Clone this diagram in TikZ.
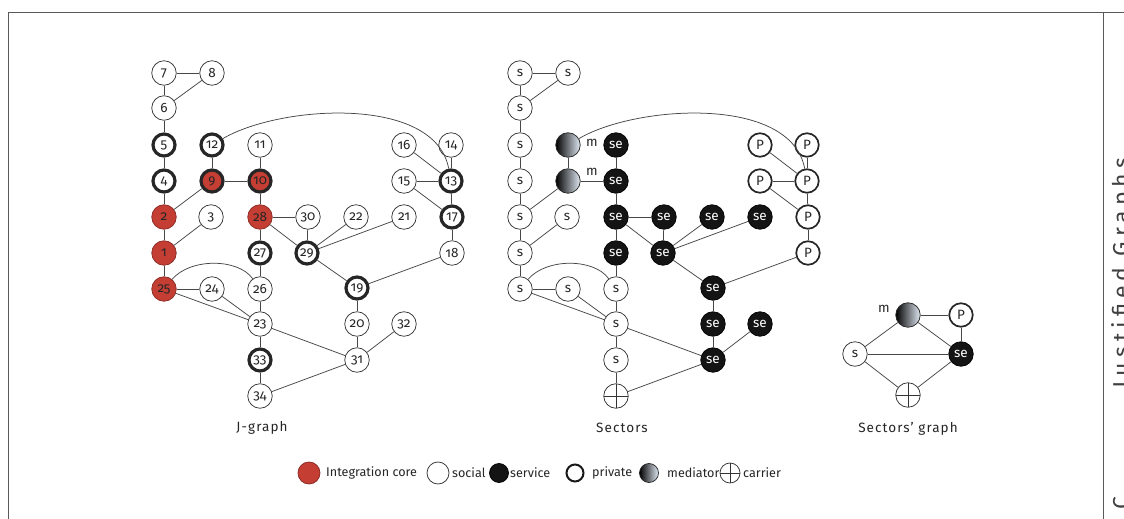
\documentclass[tikz,border=0pt]{standalone}
\usepackage{fontspec}
\setmainfont{Fira Sans}[Numbers=OldStyle]
\usetikzlibrary{calc}
\definecolor{corered}{RGB}{196,62,52}
\definecolor{medlight}{RGB}{226,234,244}
\definecolor{medmid}{RGB}{70,84,110}
\def\lblsts{s}\def\lblstm{}\def\lblstse{se}\def\lblstP{P}\def\lblstc{}
\tikzset{
  edge/.style={draw=black!72, line width=0.75pt},
  base/.style={circle, inner sep=0pt, font=\fontsize{13.5}{13.5}\selectfont, text=black!85},
  jw/.style={base, draw=black!80, line width=0.75pt, fill=white, minimum size=24.5pt},
  jwp/.style={base, draw=black!85, line width=3.2pt, fill=white, minimum size=22pt},
  jr/.style={base, draw=corered!70!black, line width=0.75pt, fill=corered, minimum size=24.5pt},
  jrp/.style={base, draw=black!85, line width=3.2pt, fill=corered, minimum size=22pt},
  sts/.style={jw},
  stP/.style={base, draw=black!85, line width=1.7pt, fill=white, minimum size=23.5pt},
  stse/.style={base, draw=black, line width=0.75pt, fill=black!92, text=white, minimum size=24.5pt},
  stm/.style={base, draw=black!85, line width=0.75pt, left color=black, middle color=medmid, right color=medlight, minimum size=24.5pt},
  stc/.style={base, draw=black!80, line width=0.75pt, fill=white, minimum size=24.5pt,
    path picture={\draw[line width=0.75pt, black!80]
      (path picture bounding box.north) -- (path picture bounding box.south)
      (path picture bounding box.west) -- (path picture bounding box.east);}},
  lbl/.style={font=\fontsize{13.5}{14}\selectfont\addfontfeatures{LetterSpace=3}, text=black!85, inner sep=0pt},
  lgdtext/.style={font=\fontsize{12.6}{14}\selectfont, text=black!85, inner sep=0pt},
  captext/.style={font=\fontsize{13.5}{14}\selectfont\addfontfeatures{LetterSpace=8}, text=black!85, inner sep=0pt},
}
\begin{document}
\begin{tikzpicture}[x=1pt, y=-1pt]
\useasboundingbox (0,0) rectangle (1124,519);
\fill[white] (0,0) rectangle (1124,519);
% frame
\draw[black!65, line width=0.8pt] (8,519) -- (8,12) -- (1124,12);
\draw[black!65, line width=0.8pt] (1103,12) -- (1103,519);
\node[rotate=90, anchor=base, text=black!75, font=\fontsize{23}{23}\selectfont\addfontfeatures{LetterSpace=22}] (side) at (1129,273) {Justified Graphs};
\node[rotate=90, anchor=base, text=black!75, font=\fontsize{23}{23}\selectfont] (sidec) at (1129,503) {C};

% nodes of the J-graph and of the sectors
\foreach \n/\x/\y/\jt/\st in {
 7/164/73/jw/sts, 8/212/73/jw/sts, 6/164/108/jw/sts,
 5/164/145/jwp/sts, 12/212/145/jwp/stm, 11/260/145/jw/stse, 16/404/145/jw/stP, 14/451/145/jw/stP,
 4/164/181/jwp/sts, 9/212/181/jrp/stm, 10/260/181/jrp/stse, 15/404/181/jw/stP, 13/451/181/jwp/stP,
 2/164/217/jr/sts, 3/211/217/jw/sts, 28/260/217/jr/stse, 30/308/217/jw/stse, 22/356/217/jw/stse, 21/404/217/jw/stse, 17/452/217/jwp/stP,
 1/164/253/jr/sts, 27/260/253/jwp/stse, 29/307/253/jwp/stse, 18/452/253/jw/stP,
 25/164/289/jr/sts, 24/212/289/jw/sts, 26/260/289/jw/sts, 19/357/288/jwp/stse,
 23/260/324/jw/sts, 20/357/324/jw/stse, 32/404/324/jw/stse,
 33/260/360/jwp/sts, 31/357/360/jw/stse,
 34/260/396/jw/stc}{
  \node[\jt] (j\n) at (\x,\y) {\n};
  \node[\st] (s\n) at (\x+356,\y) {\csname lbl\st\endcsname};
}

% straight connectors
\foreach \a/\b in {7/8, 7/6, 8/6, 6/5, 5/4, 4/2, 2/9, 12/9, 9/10, 11/10, 10/28, 2/1, 1/3, 1/25,
  25/24, 25/23, 24/23, 28/30, 28/29, 28/27, 30/29, 29/22, 29/21, 29/19, 27/26, 26/23, 23/31,
  23/33, 33/34, 34/31, 31/20, 31/32, 20/19, 19/18, 18/17, 17/13, 17/15, 13/15, 13/16, 13/14}{
  \draw[edge] (j\a) -- (j\b);
  \draw[edge] (s\a) -- (s\b);
}
% curved connectors
\draw[edge] (j12) .. controls (280,105) and (435,95) .. (j13);
\draw[edge] (s12) .. controls (636,105) and (791,95) .. (s13);
\draw[edge] (j25) .. controls (190,258) and (238,258) .. (j26);
\draw[edge] (s25) .. controls (546,258) and (594,258) .. (s26);

% mediator labels
\node[lbl] (m1) at (592,143) {m};
\node[lbl] (m2) at (592,172) {m};

% sectors' graph
\node[stm] (gm) at (908,315) {};
\node[stP] (gp) at (961,315) {P};
\node[sts] (gs) at (855,354) {s};
\node[stse] (gse) at (961,354) {se};
\node[stc] (gc) at (908,395) {};
\node[lbl] (gml) at (884,309) {m};
\foreach \a/\b in {gm/gp, gm/gs, gm/gse, gp/gse, gs/gse, gs/gc, gc/gse}{
  \draw[edge] (\a) -- (\b);
}

% captions
\node[captext] (c1) at (262,428) {J-graph};
\node[captext] (c2) at (622,428) {Sectors};
\node[captext] (c3) at (908,429) {Sectors' graph};

% legend symbols
\node[jr, minimum size=22pt] (l1) at (309,473) {};
\node[jw, minimum size=22pt] (l2) at (438,473) {};
\node[stse, minimum size=19pt] (l3) at (499,473) {};
\node[base, draw=black!90, line width=2pt, fill=white, minimum size=17pt] (l4) at (575,473) {};
\node[stm, minimum size=19pt] (l5) at (649,473) {};
\node[stc, minimum size=20pt] (l6) at (730,473) {};
% legend texts
\node[lgdtext, anchor=west] (t1) at (326,473) {Integration core};
\node[lgdtext, anchor=west] (t2) at (452,473) {social};
\node[lgdtext, anchor=west] (t3) at (510,473) {service};
\node[lgdtext, anchor=west] (t4) at (592,473) {private};
\node[lgdtext, anchor=west] (t5) at (667,473) {mediator};
\node[lgdtext, anchor=west] (t6) at (743,473) {carrier};
\end{tikzpicture}
\end{document}
